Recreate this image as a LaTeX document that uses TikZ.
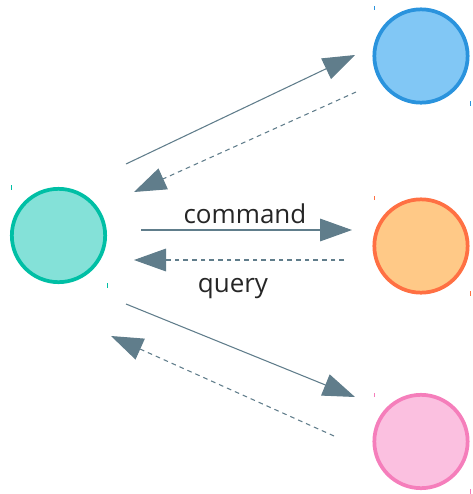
\documentclass[tikz,border=0pt]{standalone}
\usepackage{fontspec}
\setmainfont{Open Sans}
\usetikzlibrary{arrows.meta}
\definecolor{arrowgrey}{HTML}{607D8B}
\definecolor{tealfill}{HTML}{84E1D8}
\definecolor{tealline}{HTML}{00BFA5}
\definecolor{bluefill}{HTML}{81C7F5}
\definecolor{blueline}{HTML}{2A93DD}
\definecolor{orangefill}{HTML}{FFC987}
\definecolor{orangeline}{HTML}{FF7043}
\definecolor{pinkfill}{HTML}{FBC0E0}
\definecolor{pinkline}{HTML}{F57EBB}
\begin{document}
\begin{tikzpicture}[x=0.75pt,y=-0.75pt]

    \tikzset{
      actor/.style={
        circle,
        draw,
        line width=2.8pt,
        inner sep=0pt,
        minimum size=70pt,
      },
      tick/.style={
        line width=0.75pt,
      },
      sendarrow/.style={
        draw=arrowgrey,
        line width=0.8pt,
        -{Triangle[length=24pt,width=17pt]},
      },
      replyarrow/.style={
        sendarrow,
        dash pattern=on 3.5pt off 3pt,
      },
      msg/.style={
        font=\fontsize{19.5}{22}\selectfont,
        text=black!85,
      },
    }
    \useasboundingbox (0,0) rectangle (473,494);

    \node[actor,fill=tealfill,draw=tealline] (client) at (58.5,235.5) {};
    \node[actor,fill=bluefill,draw=blueline] (svca) at (421,56) {};
    \node[actor,fill=orangefill,draw=orangeline] (svcb) at (421,246) {};
    \node[actor,fill=pinkfill,draw=pinkline] (svcc) at (421,441.5) {};

    \draw[tick,tealline] (11,185) -- (11,190) (107,283) -- (107,288);
    \draw[tick,blueline] (374,6) -- (374,10) (470,101) -- (470,106);
    \draw[tick,orangeline] (374,196) -- (374,200) (470,291) -- (470,296);
    \draw[tick,pinkline] (374,393) -- (374,397) (470,489) -- (470,494);

    \coordinate (a out) at (126,164);
    \coordinate (a in) at (355,55);
    \coordinate (a back) at (356,92);
    \coordinate (a end) at (134,192);
    \coordinate (b out) at (141,230);
    \coordinate (b in) at (352,230);
    \coordinate (b back) at (344,260);
    \coordinate (b end) at (134,260);
    \coordinate (c out) at (126,304);
    \coordinate (c in) at (355,397);
    \coordinate (c back) at (334,436);
    \coordinate (c end) at (111,336);

    \draw[sendarrow] (a out) -- (a in);
    \draw[replyarrow] (a back) -- (a end);
    \draw[sendarrow] (b out) -- (b in);
    \draw[replyarrow] (b back) -- (b end);
    \draw[sendarrow] (c out) -- (c in);
    \draw[replyarrow] (c back) -- (c end);

    \node[msg] (cmd) at (245,214) {command};
    \node[msg] (qry) at (233,289) {query};

\end{tikzpicture}
\end{document}
